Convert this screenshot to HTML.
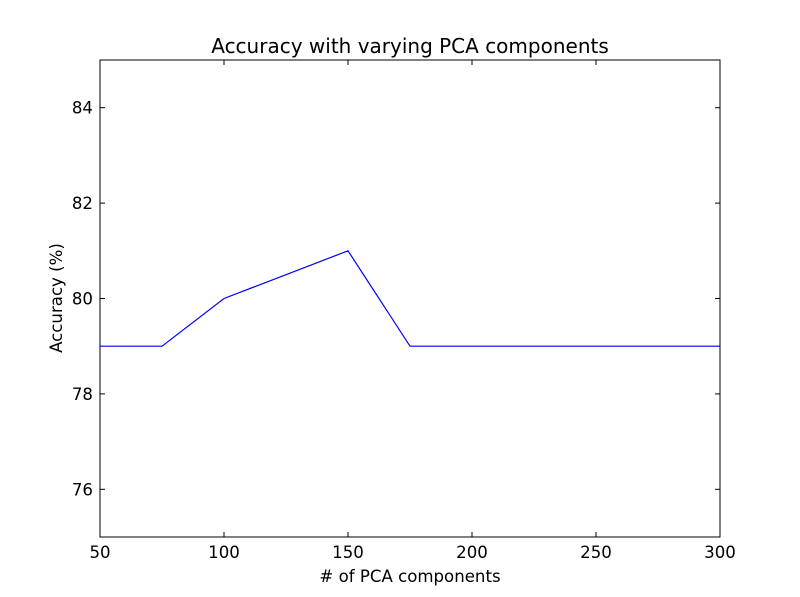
<!DOCTYPE html>
<html><head><meta charset="utf-8"><style>
body{margin:0;background:#fff;}
svg{display:block;font-family:"DejaVu Sans","Liberation Sans",sans-serif;}
</style></head><body>
<svg id="chart" width="800" height="597" viewBox="0 0 800 597">
<rect width="800" height="597" fill="#fff"/>
<text x="410" y="53" font-size="20" text-anchor="middle">Accuracy with varying PCA components</text>
<text x="410" y="582" font-size="16.6" text-anchor="middle"># of PCA components</text>
<text x="62" y="298" font-size="16.6" text-anchor="middle" transform="rotate(-90 62 298)">Accuracy (%)</text>
<g id="ticks"></g>
<path id="line" fill="none" stroke="#0000ff" stroke-width="1.2"/>
<rect x="100" y="60" width="620" height="477" fill="none" stroke="#000" stroke-width="1"/>
</svg>
<script>
const xValues=[50,75,100,125,150,175,200,225,250,275,300];
const yValues=[79,79,80,80.5,81,79,79,79,79,79,79];
const xTicks=[50,100,150,200,250,300];
const yTicks=[76,78,80,82,84];
const L=100,R=720,T=60,B=537;
const xs=v=>L+(v-50)/250*(R-L);
const ys=v=>B-(v-75)/10*(B-T);
const NS="http://www.w3.org/2000/svg";
const g=document.getElementById('ticks');
function mk(tag,attrs){const e=document.createElementNS(NS,tag);for(const k in attrs)e.setAttribute(k,attrs[k]);return e;}
xTicks.forEach(v=>{
  const x=xs(v);
  const t1=mk('line',{x1:x,x2:x,y1:B,y2:B-5,stroke:'#000'});
  
  
  g.appendChild(t1);
  const t2=mk('line',{x1:x,x2:x,y1:T,y2:T+5,stroke:'#000'});
  
  
  g.appendChild(t2);
  const tx=mk('text',{x:x,y:B+21,'font-size':16.6,'text-anchor':'middle'});
  tx.textContent=v;
  
  
  g.appendChild(tx);
});
yTicks.forEach(v=>{
  const y=ys(v);
  const t1=mk('line',{x1:L,x2:L+5,y1:y,y2:y,stroke:'#000'});
  
  
  g.appendChild(t1);
  const t2=mk('line',{x1:R,x2:R-5,y1:y,y2:y,stroke:'#000'});
  
  
  g.appendChild(t2);
  const tx=mk('text',{x:L-7,y:y+6,'font-size':16.6,'text-anchor':'end'});
  tx.textContent=v;
  
  
  g.appendChild(tx);
});
document.getElementById('line').setAttribute('d',xValues.map((v,i)=>(i?'L':'M')+xs(v)+','+ys(yValues[i])).join(' '));
</script>
</body></html>
